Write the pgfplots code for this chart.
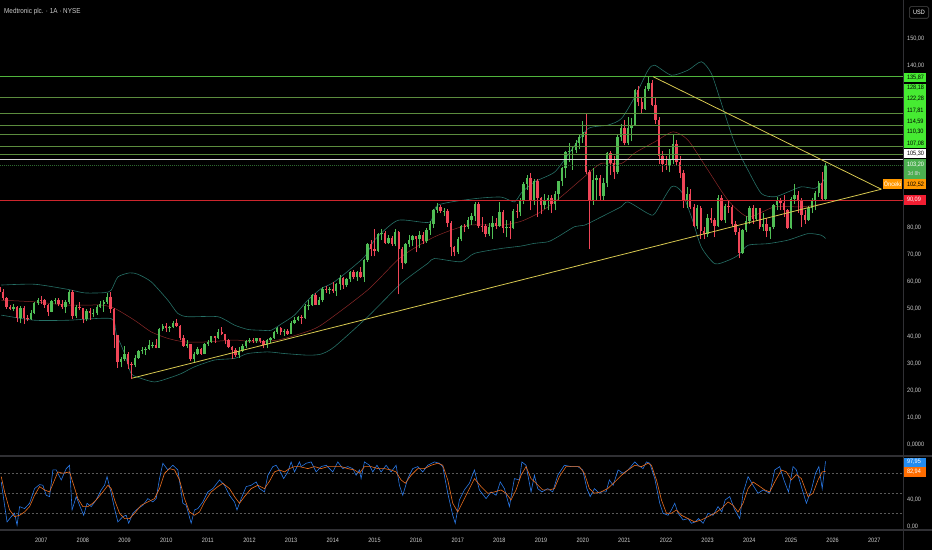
\documentclass[border=0pt]{standalone}
\usepackage{pgfplots}
\pgfplotsset{compat=1.18}
\usepackage{pgfplotstable}
\usepackage{fontspec}
\setmainfont{Liberation Sans}[FakeStretch=0.88]
\newcommand\lbl{\fontsize{6.3}{7}\selectfont}
\newcommand\sml{\fontsize{5.6}{6}\selectfont}
\newcommand\ttl{\fontsize{7.2}{8}\selectfont}
\definecolor{upc}{RGB}{80,190,85}
\definecolor{dnc}{RGB}{240,70,88}
\definecolor{band}{RGB}{38,112,102}
\definecolor{mid}{RGB}{140,40,40}
\definecolor{lvl}{RGB}{92,140,62}
\definecolor{lvltop}{RGB}{80,180,60}
\definecolor{lblg}{RGB}{70,235,50}
\definecolor{curg}{RGB}{76,175,80}
\definecolor{yel}{RGB}{215,200,80}
\definecolor{redl}{RGB}{205,38,45}
\definecolor{redlbl}{RGB}{242,30,50}
\definecolor{orl}{RGB}{255,152,0}
\definecolor{kcol}{RGB}{41,120,230}
\definecolor{dcol}{RGB}{235,110,30}
\definecolor{kbox}{RGB}{35,140,240}
\definecolor{dbox}{RGB}{255,109,0}
\definecolor{txt}{RGB}{205,205,205}
\definecolor{sep}{RGB}{48,48,52}

\pgfplotstableread{
t o h l c
2006.000 58.0 59.1 55.8 56.5
2006.083 56.5 57.4 53.5 54.0
2006.167 54.0 54.5 50.0 50.8
2006.250 50.8 51.5 49.5 50.1
2006.333 50.1 52.0 49.2 50.7
2006.417 50.7 51.2 45.3 46.9
2006.500 46.9 51.0 44.7 50.5
2006.583 50.5 51.0 44.5 46.9
2006.667 46.9 48.0 45.5 46.4
2006.750 46.4 49.5 46.0 48.7
2006.833 48.7 52.5 48.3 52.1
2006.917 52.1 54.0 51.5 53.5
2007.000 53.5 55.0 52.0 53.4
2007.083 53.4 53.8 50.5 51.4
2007.167 51.4 51.8 47.5 49.1
2007.250 49.1 53.5 48.8 52.9
2007.333 52.9 54.0 51.8 53.2
2007.417 53.2 54.0 51.0 51.9
2007.500 51.9 53.5 50.0 50.7
2007.583 50.7 53.5 48.5 52.8
2007.667 52.8 57.0 52.0 56.4
2007.750 56.4 57.1 46.5 47.4
2007.833 47.4 51.5 46.8 50.9
2007.917 50.9 52.5 49.5 50.3
2008.000 50.3 50.5 44.7 46.5
2008.083 46.5 50.0 45.5 49.4
2008.167 49.4 50.5 46.0 48.4
2008.250 48.4 50.0 47.0 48.5
2008.333 48.5 51.5 48.0 50.7
2008.417 50.7 53.0 50.5 51.8
2008.500 51.8 53.5 49.0 52.8
2008.583 52.8 56.0 52.0 54.6
2008.667 54.6 56.2 48.5 50.1
2008.750 50.1 50.5 35.7 40.3
2008.833 40.3 40.5 28.3 30.5
2008.917 30.5 32.5 28.5 31.4
2009.000 31.4 36.5 31.0 33.5
2009.083 33.5 34.0 28.0 29.6
2009.167 29.6 30.5 24.1 29.5
2009.250 29.5 33.0 28.5 32.0
2009.333 32.0 35.0 31.5 34.4
2009.417 34.4 36.0 33.5 34.9
2009.500 34.9 36.0 33.0 35.4
2009.583 35.4 38.5 35.0 36.8
2009.667 36.8 38.0 35.5 36.9
2009.750 36.9 39.0 35.5 35.7
2009.833 35.7 43.0 35.5 42.5
2009.917 42.5 44.5 42.0 43.9
2010.000 43.9 45.0 41.5 42.9
2010.083 42.9 43.8 41.5 43.4
2010.167 43.4 45.5 43.0 45.0
2010.250 45.0 46.5 43.5 43.7
2010.333 43.7 44.0 38.5 39.2
2010.417 39.2 40.5 36.0 36.3
2010.500 36.3 38.5 35.5 37.0
2010.583 37.0 37.2 30.8 31.5
2010.667 31.5 34.0 30.5 33.6
2010.750 33.6 36.0 33.0 35.2
2010.833 35.2 35.5 33.0 33.6
2010.917 33.6 37.5 33.3 37.1
2011.000 37.1 38.5 36.5 37.9
2011.083 37.9 40.0 37.5 39.9
2011.167 39.9 40.0 37.5 39.4
2011.250 39.4 42.5 39.0 41.7
2011.333 41.7 43.3 40.5 40.8
2011.417 40.8 41.0 37.0 38.5
2011.500 38.5 39.0 35.5 36.1
2011.583 36.1 36.5 31.5 35.0
2011.667 35.0 35.5 32.3 33.2
2011.750 33.2 36.0 32.0 34.7
2011.833 34.7 37.0 34.0 36.3
2011.917 36.3 38.5 35.5 38.3
2012.000 38.3 39.5 37.5 38.6
2012.083 38.6 39.5 37.5 38.3
2012.167 38.3 39.5 37.5 39.2
2012.250 39.2 39.5 37.5 38.2
2012.333 38.2 38.5 35.5 36.8
2012.417 36.8 38.8 35.5 38.7
2012.500 38.7 39.8 37.5 39.4
2012.583 39.4 41.8 39.0 41.5
2012.667 41.5 43.5 41.0 43.1
2012.750 43.1 43.5 40.5 41.6
2012.833 41.6 42.5 40.0 42.1
2012.917 42.1 42.5 40.5 41.0
2013.000 41.0 45.5 40.8 44.9
2013.083 44.9 47.0 44.5 46.1
2013.167 46.1 47.5 45.5 47.0
2013.250 47.0 48.0 44.5 46.7
2013.333 46.7 52.0 46.5 51.0
2013.417 51.0 53.5 49.5 51.5
2013.500 51.5 55.5 51.3 55.3
2013.583 55.3 55.8 51.5 51.7
2013.667 51.7 54.5 51.5 53.3
2013.750 53.3 58.0 52.5 57.4
2013.833 57.4 58.5 56.0 57.2
2013.917 57.2 58.0 55.5 57.4
2014.000 57.4 60.0 56.0 56.6
2014.083 56.6 59.5 55.0 59.3
2014.167 59.3 62.5 57.0 61.5
2014.250 61.5 62.0 57.5 58.8
2014.333 58.8 61.5 58.0 61.0
2014.417 61.0 64.0 60.0 63.8
2014.500 63.8 64.5 61.0 61.7
2014.583 61.7 64.0 60.5 63.9
2014.667 63.9 65.5 61.5 61.9
2014.750 61.9 68.5 60.0 68.2
2014.833 68.2 74.5 67.5 73.9
2014.917 73.9 75.5 69.5 72.2
2015.000 72.2 79.5 69.5 71.4
2015.083 71.4 78.0 71.0 77.6
2015.167 77.6 79.5 75.5 78.0
2015.250 78.0 79.0 74.0 74.5
2015.333 74.5 77.5 74.0 76.3
2015.417 76.3 77.0 73.5 74.1
2015.500 74.1 79.5 73.5 78.4
2015.583 78.4 79.0 55.5 72.3
2015.667 72.3 73.0 65.0 66.9
2015.750 66.9 74.5 66.5 73.9
2015.833 73.9 77.5 73.0 75.4
2015.917 75.4 77.5 73.5 76.9
2016.000 76.9 77.0 71.0 75.9
2016.083 75.9 79.0 72.5 77.3
2016.167 77.3 78.5 74.0 75.0
2016.250 75.0 80.0 74.5 79.1
2016.333 79.1 82.5 77.5 81.4
2016.417 81.4 87.0 80.0 86.8
2016.500 86.8 89.3 85.5 87.6
2016.583 87.6 88.5 85.5 86.3
2016.667 86.3 87.5 84.5 86.4
2016.750 86.4 87.0 80.5 82.0
2016.833 82.0 82.5 69.5 73.0
2016.917 73.0 73.5 69.5 71.2
2017.000 71.2 76.5 70.5 76.0
2017.083 76.0 81.0 75.0 80.6
2017.167 80.6 81.5 78.5 80.5
2017.250 80.5 84.0 79.5 83.1
2017.333 83.1 85.5 81.0 84.3
2017.417 84.3 89.7 82.5 88.7
2017.500 88.7 89.5 80.0 80.8
2017.583 80.8 84.0 78.5 80.6
2017.667 80.6 81.5 76.5 77.8
2017.750 77.8 82.0 77.0 80.5
2017.833 80.5 84.5 76.0 82.0
2017.917 82.0 83.5 79.5 80.8
2018.000 80.8 89.5 80.5 85.9
2018.083 85.9 86.5 78.0 79.9
2018.167 79.9 83.0 76.5 80.2
2018.250 80.2 82.5 76.0 80.1
2018.333 80.1 87.0 79.5 86.3
2018.417 86.3 89.0 83.5 85.8
2018.500 85.8 91.0 84.5 90.2
2018.583 90.2 96.8 89.0 96.4
2018.667 96.4 99.5 94.0 98.4
2018.750 98.4 100.2 86.5 89.8
2018.833 89.8 98.0 88.5 97.5
2018.917 97.5 98.0 84.0 91.0
2019.000 91.0 91.5 85.0 88.4
2019.083 88.4 92.5 87.0 90.5
2019.167 90.5 92.0 86.5 91.1
2019.250 91.1 92.0 85.5 88.8
2019.333 88.8 93.5 86.5 92.6
2019.417 92.6 97.5 90.0 97.4
2019.500 97.4 102.5 95.5 102.0
2019.583 102.0 108.5 98.5 107.9
2019.667 107.9 111.5 104.5 108.6
2019.750 108.6 110.0 101.5 108.9
2019.833 108.9 112.5 107.5 111.4
2019.917 111.4 114.5 109.0 113.5
2020.000 113.5 119.5 111.5 115.4
2020.083 115.4 122.2 100.0 100.7
2020.167 100.7 101.5 72.1 90.2
2020.250 90.2 102.0 88.5 97.6
2020.333 97.6 99.5 90.5 98.6
2020.417 98.6 99.5 90.0 91.7
2020.500 91.7 98.5 90.5 96.5
2020.583 96.5 108.0 95.0 107.5
2020.667 107.5 108.5 99.5 103.9
2020.750 103.9 106.5 98.0 100.6
2020.833 100.6 114.5 100.0 113.7
2020.917 113.7 118.5 112.0 117.1
2021.000 117.1 120.0 110.5 111.3
2021.083 111.3 121.0 110.5 117.0
2021.167 117.0 120.5 112.0 118.1
2021.250 118.1 131.5 117.5 130.9
2021.333 130.9 132.5 125.0 126.6
2021.417 126.6 128.5 122.0 124.1
2021.500 124.1 132.5 123.5 131.3
2021.583 131.3 135.9 130.5 133.5
2021.667 133.5 134.5 125.0 125.4
2021.750 125.4 128.0 118.5 119.9
2021.833 119.9 121.0 103.5 106.7
2021.917 106.7 108.5 100.5 103.5
2022.000 103.5 106.5 101.5 103.4
2022.083 103.4 109.0 100.5 105.0
2022.167 105.0 114.3 103.5 111.0
2022.250 111.0 112.5 103.0 104.4
2022.333 104.4 106.5 98.5 100.2
2022.417 100.2 101.5 87.5 89.8
2022.500 89.8 95.0 87.5 92.5
2022.583 92.5 94.5 87.0 87.9
2022.667 87.9 89.0 80.5 80.8
2022.750 80.8 88.5 79.5 87.3
2022.833 87.3 88.0 76.0 79.0
2022.917 79.0 80.5 75.8 77.7
2023.000 77.7 85.0 76.5 83.7
2023.083 83.7 87.5 82.0 82.8
2023.167 82.8 83.5 76.5 80.6
2023.250 80.6 92.0 80.5 90.9
2023.333 90.9 92.0 82.5 82.8
2023.417 82.8 89.0 82.0 88.1
2023.500 88.1 90.0 85.5 87.8
2023.583 87.8 88.5 80.5 81.5
2023.667 81.5 82.5 77.5 78.4
2023.750 78.4 80.0 68.8 70.6
2023.833 70.6 79.5 70.5 79.3
2023.917 79.3 84.5 78.5 82.4
2024.000 82.4 88.0 81.5 87.5
2024.083 87.5 88.5 81.5 83.4
2024.167 83.4 87.5 82.5 87.2
2024.250 87.2 87.5 79.5 80.2
2024.333 80.2 85.5 79.0 81.4
2024.417 81.4 83.5 76.5 78.7
2024.500 78.7 80.5 76.0 80.3
2024.583 80.3 89.0 79.5 88.6
2024.667 88.6 91.5 86.5 90.0
2024.750 90.0 91.0 86.5 89.2
2024.833 89.2 92.0 84.0 86.5
2024.917 86.5 87.0 79.5 79.9
2025.000 79.9 91.5 79.5 90.8
2025.083 90.8 96.2 89.0 92.0
2025.167 92.0 93.5 85.5 89.9
2025.250 89.9 91.0 80.5 84.8
2025.333 84.8 86.5 81.5 83.0
2025.417 83.0 88.0 82.5 87.2
2025.500 87.2 91.0 85.5 90.2
2025.583 90.2 93.5 86.5 92.8
2025.667 92.8 97.5 91.5 96.5
2025.750 96.5 100.5 90.0 90.7
2025.833 90.7 103.9 89.9 103.2
}\candles

\begin{document}
\begin{tikzpicture}[x=1pt,y=1pt]
\fill[black] (0pt,0pt) rectangle (932pt,550pt);

% ---------- main price pane ----------
\begin{axis}[at={(0pt,94pt)}, anchor=south west, scale only axis,
  width=903pt, height=456pt,
  xmin=2006.01, xmax=2027.69, ymin=-4.25, ymax=164.2,
  axis line style={draw=none}, major tick length=0pt,
  xtick=\empty,
  ytick={0,10,20,30,40,50,60,70,80,140,150},
  yticklabels={{0,0000},{10,00},{20,00},{30,00},{40,00},{50,00},{60,00},{70,00},{80,00},{140,00},{150,00}},
  yticklabel pos=right,
  yticklabel style={anchor=west, inner sep=0pt, xshift=4pt, font=\lbl, color=txt}]

% Bollinger bands
\addplot[band, line width=0.6pt, smooth, tension=0.4] coordinates {
(2006.04,58.9)(2006.84,59.2)(2007.64,57.3)(2008.04,56.0)(2008.52,56.1)(2008.68,57.0)
(2008.84,61.9)(2009.12,63.4)(2009.32,62.9)(2009.64,60.1)(2010.04,53.3)(2010.28,48.4)
(2010.52,47.2)(2011.24,47.2)(2011.64,44.1)(2011.96,42.5)(2012.28,42.2)(2012.52,42.2)
(2012.76,44.5)(2013.08,47.8)(2013.40,53.3)(2013.72,57.6)(2014.04,60.1)(2014.76,69.3)
(2015.00,75.5)(2015.56,82.8)(2016.32,82.1)(2016.52,88.4)(2017.40,90.8)(2018.04,91.4)
(2018.36,89.6)(2018.53,93.0)(2018.84,97.0)(2019.33,100.7)(2019.73,108.8)(2020.13,116.7)
(2020.61,118.0)(2020.93,120.4)(2021.25,128.4)(2021.57,138.3)(2021.73,140.1)(2022.13,136.4)
(2022.53,138.3)(2022.85,141.4)(2023.09,137.0)(2023.33,126.0)(2023.65,111.2)(2023.97,101.3)
(2024.29,92.7)(2024.61,91.5)(2024.93,93.3)(2025.25,95.2)(2025.57,94.6)(2025.73,96.4)(2025.83,98.9)};
\addplot[band, line width=0.6pt, smooth, tension=0.4] coordinates {
(2006.04,47.8)(2006.84,45.9)(2007.64,45.9)(2008.68,46.5)(2008.80,41.0)(2009.00,33.6)
(2009.16,26.2)(2009.40,24.4)(2009.72,23.1)(2010.04,24.4)(2010.36,26.2)(2010.68,28.7)
(2011.16,31.2)(2011.64,31.8)(2011.96,33.6)(2012.44,34.2)(2012.84,33.6)(2013.40,33.0)
(2013.72,33.4)(2014.04,36.1)(2014.84,47.2)(2015.64,59.5)(2016.28,66.9)(2016.44,68.7)
(2017.08,67.5)(2017.40,70.6)(2018.04,72.4)(2018.52,73.3)(2018.84,74.3)(2019.17,74.9)
(2019.40,76.7)(2019.81,80.5)(2020.04,81.0)(2020.45,84.1)(2020.68,85.9)(2020.92,87.8)
(2021.09,89.6)(2021.57,85.3)(2021.73,85.3)(2022.13,95.2)(2022.37,93.4)(2022.61,84.1)
(2022.85,72.9)(2023.17,66.8)(2023.49,68.0)(2023.73,69.9)(2023.97,73.6)(2024.45,74.2)
(2024.93,75.5)(2025.41,77.9)(2025.73,77.3)(2025.83,76.1)};
\addplot[mid, line width=0.5pt, smooth, tension=0.4] coordinates {
(2006.04,53.3)(2006.84,52.7)(2007.64,51.5)(2008.44,51.5)(2008.76,50.3)(2009.24,45.9)
(2009.64,41.6)(2010.04,39.2)(2010.44,37.9)(2011.00,37.9)(2011.64,38.6)(2012.12,37.9)
(2012.68,38.6)(2013.24,41.0)(2013.72,44.1)(2014.84,57.1)(2015.64,69.3)(2016.44,76.7)
(2017.24,81.0)(2018.04,81.0)(2018.53,82.5)(2019.00,86.0)(2019.48,91.5)(2020.04,98.9)
(2020.44,103.8)(2020.93,103.8)(2021.25,107.7)(2021.73,111.8)(2022.17,115.5)(2022.53,112.4)
(2023.01,101.3)(2023.49,90.2)(2023.97,84.1)(2024.61,87.8)(2025.25,87.8)(2025.83,89.0)};

% candles: wicks
\addplot[upc, line width=0.5pt, quiver={u=0, v=\thisrow{h}-\thisrow{l}},
  restrict expr to domain={\thisrow{c}-\thisrow{o}}{0:1000}] table[x=t, y=l] {\candles};
\addplot[dnc, line width=0.5pt, quiver={u=0, v=\thisrow{h}-\thisrow{l}},
  restrict expr to domain={\thisrow{o}-\thisrow{c}}{0.00001:1000}] table[x=t, y=l] {\candles};
% candles: bodies
\addplot[upc, line width=2.4pt, quiver={u=0, v=\thisrow{c}-\thisrow{o}},
  restrict expr to domain={\thisrow{c}-\thisrow{o}}{0:1000}] table[x=t, y=o] {\candles};
\addplot[dnc, line width=2.4pt, quiver={u=0, v=\thisrow{c}-\thisrow{o}},
  restrict expr to domain={\thisrow{o}-\thisrow{c}}{0.00001:1000}] table[x=t, y=o] {\candles};

% horizontal levels
\addplot[lvltop, line width=0.7pt] coordinates {(2006,135.87)(2028,135.87)};
\addplot[lvl, line width=0.7pt] coordinates {(2006,128.18)(2028,128.18)};
\addplot[lvl, line width=0.7pt] coordinates {(2006,122.28)(2028,122.28)};
\addplot[lvl, line width=0.7pt] coordinates {(2006,117.81)(2028,117.81)};
\addplot[lvl, line width=0.7pt] coordinates {(2006,114.59)(2028,114.59)};
\addplot[lvl, line width=0.7pt] coordinates {(2006,110.30)(2028,110.30)};
\addplot[lvl, line width=0.7pt] coordinates {(2006,107.08)(2028,107.08)};
\addplot[white!85!black, line width=0.7pt] coordinates {(2006,105.30)(2028,105.30)};
\addplot[curg!60!black, line width=0.5pt, dash pattern=on 1pt off 1pt] coordinates {(2006,103.20)(2028,103.20)};
\addplot[redl, line width=0.7pt] coordinates {(2006,90.09)(2028,90.09)};
% triangle
\addplot[yel, line width=0.8pt] coordinates {(2009.18,24.5)(2027.17,94.3)};
\addplot[yel, line width=0.8pt] coordinates {(2021.69,135.87)(2027.17,94.3)};
\end{axis}

% ---------- Stoch RSI pane ----------
\begin{axis}[at={(0pt,20pt)}, anchor=south west, scale only axis,
  width=903pt, height=74pt,
  xmin=2006.01, xmax=2027.69, ymin=-5.1, ymax=105.9,
  axis line style={draw=none}, major tick length=0pt,
  xtick={2007,2008,2009,2010,2011,2012,2013,2014,2015,2016,2017,2018,2019,2020,2021,2022,2023,2024,2025,2026,2027},
  xticklabels={2007,2008,2009,2010,2011,2012,2013,2014,2015,2016,2017,2018,2019,2020,2021,2022,2023,2024,2025,2026,2027},
  xticklabel style={anchor=center, inner sep=0pt, yshift=-10pt, font=\lbl, color=txt},
  ytick={0,40}, yticklabels={{0,00},{40,00}},
  yticklabel pos=right,
  yticklabel style={anchor=west, inner sep=0pt, xshift=4pt, font=\lbl, color=txt}]
\addplot[gray!70!black, line width=0.5pt, dash pattern=on 2pt off 2pt] coordinates {(2006,80)(2028,80)};
\addplot[gray!70!black, line width=0.5pt, dash pattern=on 2pt off 2pt] coordinates {(2006,50)(2028,50)};
\addplot[gray!70!black, line width=0.5pt, dash pattern=on 2pt off 2pt] coordinates {(2006,20)(2028,20)};
\addplot[kcol, line width=0.6pt] coordinates {
(2006.04,67)(2006.12,32)(2006.18,7)(2006.28,15)(2006.36,20)(2006.42,2)(2006.48,30)(2006.60,27)
(2006.72,35)(2006.84,57)(2006.96,63)(2007.04,62)(2007.12,47)(2007.20,45)(2007.28,85)(2007.36,85)
(2007.48,70)(2007.60,87)(2007.68,92)(2007.74,25)(2007.84,45)(2007.92,32)(2008.02,17)(2008.10,35)
(2008.20,30)(2008.32,40)(2008.44,55)(2008.52,62)(2008.58,75)(2008.68,50)(2008.76,27)(2008.84,7)
(2008.96,15)(2009.04,17)(2009.10,5)(2009.20,20)(2009.32,27)(2009.44,32)(2009.56,42)(2009.68,37)
(2009.76,42)(2009.84,72)(2009.92,95)(2010.04,85)(2010.16,92)(2010.28,85)(2010.40,35)(2010.48,32)
(2010.60,5)(2010.68,25)(2010.76,27)(2010.88,37)(2011.00,52)(2011.12,57)(2011.28,70)(2011.40,62)
(2011.52,47)(2011.64,37)(2011.70,25)(2011.80,42)(2011.92,60)(2012.04,62)(2012.16,67)(2012.24,57)
(2012.36,52)(2012.44,77)(2012.56,90)(2012.64,92)(2012.76,80)(2012.82,72)(2012.92,82)(2013.00,97)
(2013.08,82)(2013.20,97)(2013.24,90)(2013.36,95)(2013.48,97)(2013.60,82)(2013.72,90)(2013.84,92)
(2014.00,82)(2014.12,97)(2014.24,87)(2014.36,90)(2014.48,87)(2014.56,77)(2014.64,85)(2014.68,72)
(2014.76,97)(2014.88,92)(2014.96,82)(2015.06,92)(2015.16,82)(2015.28,92)(2015.40,82)(2015.52,92)
(2015.60,62)(2015.68,47)(2015.80,72)(2015.92,87)(2016.04,90)(2016.16,82)(2016.28,92)(2016.44,97)
(2016.56,95)(2016.64,90)(2016.76,50)(2016.88,17)(2016.94,5)(2017.04,40)(2017.16,55)(2017.28,65)
(2017.40,85)(2017.52,55)(2017.68,42)(2017.80,52)(2017.92,47)(2018.02,67)(2018.12,57)(2018.24,30)
(2018.36,72)(2018.48,70)(2018.54,97)(2018.64,92)(2018.76,52)(2018.84,77)(2018.92,57)(2019.02,52)
(2019.16,57)(2019.28,52)(2019.40,77)(2019.56,92)(2019.72,90)(2019.88,90)(2020.00,85)(2020.10,57)
(2020.18,45)(2020.28,57)(2020.40,50)(2020.45,52)(2020.56,52)(2020.64,70)(2020.73,62)(2020.85,85)
(2020.97,80)(2021.09,85)(2021.25,97)(2021.33,92)(2021.45,87)(2021.53,97)(2021.61,95)(2021.73,72)
(2021.85,35)(2021.93,20)(2022.05,17)(2022.13,25)(2022.21,35)(2022.29,20)(2022.41,10)(2022.53,12)
(2022.61,5)(2022.70,7)(2022.78,12)(2022.89,5)(2023.01,20)(2023.13,17)(2023.25,30)(2023.34,22)
(2023.42,40)(2023.53,45)(2023.65,25)(2023.77,12)(2023.85,50)(2023.97,75)(2024.09,62)(2024.21,50)
(2024.33,55)(2024.49,50)(2024.61,85)(2024.73,90)(2024.83,70)(2024.94,52)(2025.05,90)(2025.13,85)
(2025.25,60)(2025.37,35)(2025.49,55)(2025.59,80)(2025.67,90)(2025.75,57)(2025.83,97.95)};
\addplot[dcol, line width=0.6pt] coordinates {
(2006.04,75)(2006.12,52)(2006.24,25)(2006.36,15)(2006.48,17)(2006.60,22)(2006.72,30)(2006.84,47)
(2006.96,60)(2007.08,55)(2007.20,52)(2007.32,70)(2007.40,82)(2007.52,80)(2007.68,82)(2007.78,62)
(2007.88,42)(2008.00,30)(2008.12,30)(2008.24,35)(2008.36,43)(2008.48,52)(2008.60,62)(2008.68,57)
(2008.76,40)(2008.88,20)(2009.00,12)(2009.12,12)(2009.24,20)(2009.40,32)(2009.56,37)(2009.72,42)
(2009.84,57)(2009.96,80)(2010.08,87)(2010.20,85)(2010.32,70)(2010.44,42)(2010.56,22)(2010.68,17)
(2010.80,22)(2010.92,37)(2011.08,52)(2011.24,60)(2011.36,65)(2011.52,57)(2011.64,45)(2011.76,35)
(2011.88,45)(2012.04,57)(2012.20,62)(2012.36,57)(2012.48,68)(2012.60,82)(2012.72,85)(2012.84,82)
(2012.96,87)(2013.08,90)(2013.20,90)(2013.40,87)(2013.56,90)(2013.72,87)(2013.88,90)(2014.04,90)
(2014.20,90)(2014.36,87)(2014.52,85)(2014.64,80)(2014.76,90)(2014.92,90)(2015.08,87)(2015.24,87)
(2015.40,85)(2015.52,82)(2015.64,70)(2015.74,65)(2015.88,77)(2016.04,87)(2016.20,87)(2016.36,92)
(2016.52,95)(2016.64,92)(2016.76,70)(2016.88,35)(2017.00,22)(2017.12,37)(2017.24,52)(2017.40,72)
(2017.56,60)(2017.72,50)(2017.88,52)(2018.04,55)(2018.16,50)(2018.28,40)(2018.40,55)(2018.52,77)
(2018.64,90)(2018.76,72)(2018.88,65)(2019.04,55)(2019.20,55)(2019.32,57)(2019.44,75)(2019.60,90)
(2019.76,90)(2019.92,90)(2020.04,80)(2020.16,57)(2020.28,50)(2020.44,52)(2020.60,57)(2020.77,67)
(2020.93,77)(2021.09,85)(2021.25,92)(2021.41,90)(2021.57,95)(2021.65,92)(2021.77,70)(2021.89,40)
(2022.01,20)(2022.13,20)(2022.25,25)(2022.37,17)(2022.53,12)(2022.69,7)(2022.85,10)(2023.01,15)
(2023.17,20)(2023.33,27)(2023.49,37)(2023.61,32)(2023.73,22)(2023.85,35)(2023.97,57)(2024.09,67)
(2024.21,62)(2024.37,55)(2024.49,52)(2024.61,67)(2024.77,85)(2024.89,82)(2025.01,70)(2025.13,78)
(2025.25,72)(2025.41,45)(2025.53,50)(2025.65,70)(2025.75,82)(2025.83,82.94)};
\end{axis}

% ---------- separators ----------
\draw[sep, line width=2pt] (0pt,94pt) -- (932pt,94pt);
\draw[sep, line width=2pt] (0pt,20pt) -- (932pt,20pt);
\draw[sep, line width=1pt] (903pt,0pt) -- (903pt,550pt);

% ---------- title and price-scale labels ----------
\node[anchor=west, inner sep=0pt, font=\ttl, text=txt] at (4,538) {Medtronic plc. · 1A · NYSE};
\draw[gray!60!black, rounded corners=1.5pt, line width=0.6pt] (909.3,531.7) rectangle (928.7,543.3);
\node[inner sep=0pt, font=\lbl, text=white] at (919,537.5) {USD};

\fill[lblg] (903.5,467.7) rectangle (926,477.3);
\node[anchor=west, inner sep=0pt, font=\lbl, text=black] at (906.8,472.5) {135,87};
\fill[lblg] (903.5,402) rectangle (926,466);
\node[anchor=west, inner sep=0pt, font=\lbl, text=black] at (906.8,462) {128,18};
\node[anchor=west, inner sep=0pt, font=\lbl, text=black] at (906.8,451) {122,28};
\node[anchor=west, inner sep=0pt, font=\lbl, text=black] at (906.8,439) {117,81};
\node[anchor=west, inner sep=0pt, font=\lbl, text=black] at (906.8,428.5) {114,59};
\node[anchor=west, inner sep=0pt, font=\lbl, text=black] at (906.8,418) {110,30};
\node[anchor=west, inner sep=0pt, font=\lbl, text=black] at (906.8,406.5) {107,08};
\fill[white] (903.5,391.7) rectangle (926,400.7);
\node[anchor=west, inner sep=0pt, font=\lbl, text=black] at (906.8,396.2) {105,30};
\fill[curg] (903.5,371.3) rectangle (926,391.3);
\node[anchor=west, inner sep=0pt, font=\lbl, text=white] at (906.8,385.5) {103,20};
\node[anchor=west, inner sep=0pt, font=\sml, text=white!85!black] at (907.5,376.5) {3d 8h};
\fill[orl] (882.7,360.7) rectangle (902.3,370.7);
\node[inner sep=0pt, font=\lbl, text=white] at (892.5,365.7) {Önceki};
\fill[orl] (903.5,360.7) rectangle (926,370.7);
\node[anchor=west, inner sep=0pt, font=\lbl, text=black] at (906.8,365.7) {102,52};
\fill[redlbl] (903.5,345.3) rectangle (926,354.7);
\node[anchor=west, inner sep=0pt, font=\lbl, text=white] at (906.8,350) {90,09};

\fill[kbox] (903.5,83) rectangle (926,92.5);
\node[anchor=west, inner sep=0pt, font=\lbl, text=white] at (906.8,87.8) {97,95};
\fill[dbox] (903.5,73) rectangle (926,82.7);
\node[anchor=west, inner sep=0pt, font=\lbl, text=white] at (906.8,77.8) {82,94};

\pgfresetboundingbox
\path[use as bounding box] (0pt,0pt) rectangle (932pt,550pt);
\end{tikzpicture}
\end{document}
